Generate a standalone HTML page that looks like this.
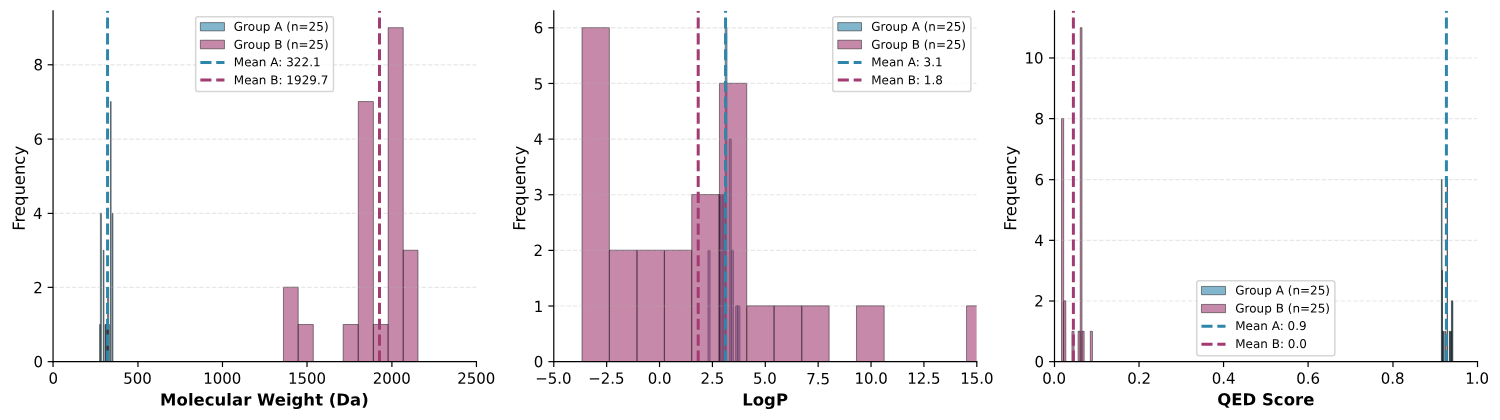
<!DOCTYPE html>
<html lang="en">
<head>
<meta charset="utf-8">
<title>Group A vs Group B property distributions</title>
<style>
html,body{margin:0;padding:0;background:#fff;}
body{width:1500px;height:420px;overflow:hidden;}
svg{display:block;}
.t text{font-family:"DejaVu Sans","Liberation Sans",sans-serif;fill:#000;text-rendering:geometricPrecision;}
</style>
</head>
<body>
<svg width="1500" height="420" viewBox="0 0 1500 420" role="img" aria-label="Histograms comparing Group A and Group B: molecular weight, LogP and QED score">
<defs><clipPath id="c0"><rect x="147" y="30" width="1177" height="977"/></clipPath><clipPath id="c1"><rect x="1539" y="30" width="1176" height="977"/></clipPath><clipPath id="c2"><rect x="2931" y="30" width="1176" height="977"/></clipPath></defs>
<g>
<g transform="scale(0.35971223 0.35897436)">
<path d="M0 1170L4170 1170L4170 0L0 0Z" fill="#ffffff"/>
<path d="M147 1007L1324 1007L1324 30L147 30Z" fill="#ffffff"/>
<path d="M277 1007L279 1007L279 904L277 904Z" fill="#2e86ab" fill-opacity="0.6" stroke="#000000" stroke-opacity="0.6" stroke-width="2.083" stroke-miterlimit="10" clip-path="url(#c0)"/>
<path d="M279 1007L282 1007L282 594L279 594Z" fill="#2e86ab" fill-opacity="0.6" stroke="#000000" stroke-opacity="0.6" stroke-width="2.083" stroke-miterlimit="10" clip-path="url(#c0)"/>
<path d="M282 1007L284 1007L284 1007L282 1007Z" fill="#2e86ab" fill-opacity="0.6" stroke="#000000" stroke-opacity="0.6" stroke-width="2.083" stroke-miterlimit="10" clip-path="url(#c0)"/>
<path d="M284 1007L287 1007L287 1007L284 1007Z" fill="#2e86ab" fill-opacity="0.6" stroke="#000000" stroke-opacity="0.6" stroke-width="2.083" stroke-miterlimit="10" clip-path="url(#c0)"/>
<path d="M287 1007L289 1007L289 697L287 697Z" fill="#2e86ab" fill-opacity="0.6" stroke="#000000" stroke-opacity="0.6" stroke-width="2.083" stroke-miterlimit="10" clip-path="url(#c0)"/>
<path d="M289 1007L292 1007L292 1007L289 1007Z" fill="#2e86ab" fill-opacity="0.6" stroke="#000000" stroke-opacity="0.6" stroke-width="2.083" stroke-miterlimit="10" clip-path="url(#c0)"/>
<path d="M292 1007L294 1007L294 904L292 904Z" fill="#2e86ab" fill-opacity="0.6" stroke="#000000" stroke-opacity="0.6" stroke-width="2.083" stroke-miterlimit="10" clip-path="url(#c0)"/>
<path d="M294 1007L297 1007L297 904L294 904Z" fill="#2e86ab" fill-opacity="0.6" stroke="#000000" stroke-opacity="0.6" stroke-width="2.083" stroke-miterlimit="10" clip-path="url(#c0)"/>
<path d="M297 1007L299 1007L299 904L297 904Z" fill="#2e86ab" fill-opacity="0.6" stroke="#000000" stroke-opacity="0.6" stroke-width="2.083" stroke-miterlimit="10" clip-path="url(#c0)"/>
<path d="M299 1007L302 1007L302 800L299 800Z" fill="#2e86ab" fill-opacity="0.6" stroke="#000000" stroke-opacity="0.6" stroke-width="2.083" stroke-miterlimit="10" clip-path="url(#c0)"/>
<path d="M302 1007L304 1007L304 904L302 904Z" fill="#2e86ab" fill-opacity="0.6" stroke="#000000" stroke-opacity="0.6" stroke-width="2.083" stroke-miterlimit="10" clip-path="url(#c0)"/>
<path d="M304 1007L307 1007L307 1007L304 1007Z" fill="#2e86ab" fill-opacity="0.6" stroke="#000000" stroke-opacity="0.6" stroke-width="2.083" stroke-miterlimit="10" clip-path="url(#c0)"/>
<path d="M307 1007L309 1007L309 283L307 283Z" fill="#2e86ab" fill-opacity="0.6" stroke="#000000" stroke-opacity="0.6" stroke-width="2.083" stroke-miterlimit="10" clip-path="url(#c0)"/>
<path d="M309 1007L312 1007L312 1007L309 1007Z" fill="#2e86ab" fill-opacity="0.6" stroke="#000000" stroke-opacity="0.6" stroke-width="2.083" stroke-miterlimit="10" clip-path="url(#c0)"/>
<path d="M312 1007L314 1007L314 594L312 594Z" fill="#2e86ab" fill-opacity="0.6" stroke="#000000" stroke-opacity="0.6" stroke-width="2.083" stroke-miterlimit="10" clip-path="url(#c0)"/>
<path d="M788 1007L829 1007L829 800L788 800Z" fill="#a23b72" fill-opacity="0.6" stroke="#000000" stroke-opacity="0.6" stroke-width="2.083" stroke-miterlimit="10" clip-path="url(#c0)"/>
<path d="M829 1007L871 1007L871 904L829 904Z" fill="#a23b72" fill-opacity="0.6" stroke="#000000" stroke-opacity="0.6" stroke-width="2.083" stroke-miterlimit="10" clip-path="url(#c0)"/>
<path d="M871 1007L913 1007L913 1007L871 1007Z" fill="#a23b72" fill-opacity="0.6" stroke="#000000" stroke-opacity="0.6" stroke-width="2.083" stroke-miterlimit="10" clip-path="url(#c0)"/>
<path d="M913 1007L954 1007L954 1007L913 1007Z" fill="#a23b72" fill-opacity="0.6" stroke="#000000" stroke-opacity="0.6" stroke-width="2.083" stroke-miterlimit="10" clip-path="url(#c0)"/>
<path d="M954 1007L996 1007L996 904L954 904Z" fill="#a23b72" fill-opacity="0.6" stroke="#000000" stroke-opacity="0.6" stroke-width="2.083" stroke-miterlimit="10" clip-path="url(#c0)"/>
<path d="M996 1007L1038 1007L1038 283L996 283Z" fill="#a23b72" fill-opacity="0.6" stroke="#000000" stroke-opacity="0.6" stroke-width="2.083" stroke-miterlimit="10" clip-path="url(#c0)"/>
<path d="M1038 1007L1079 1007L1079 904L1038 904Z" fill="#a23b72" fill-opacity="0.6" stroke="#000000" stroke-opacity="0.6" stroke-width="2.083" stroke-miterlimit="10" clip-path="url(#c0)"/>
<path d="M1079 1007L1121 1007L1121 77L1079 77Z" fill="#a23b72" fill-opacity="0.6" stroke="#000000" stroke-opacity="0.6" stroke-width="2.083" stroke-miterlimit="10" clip-path="url(#c0)"/>
<path d="M1121 1007L1162 1007L1162 697L1121 697Z" fill="#a23b72" fill-opacity="0.6" stroke="#000000" stroke-opacity="0.6" stroke-width="2.083" stroke-miterlimit="10" clip-path="url(#c0)"/>
<path d="M1162 1007L1204 1007L1204 1007L1162 1007Z" fill="#a23b72" fill-opacity="0.6" stroke="#000000" stroke-opacity="0.6" stroke-width="2.083" stroke-miterlimit="10" clip-path="url(#c0)"/>
<path d="M1204 1007L1246 1007L1246 1007L1204 1007Z" fill="#a23b72" fill-opacity="0.6" stroke="#000000" stroke-opacity="0.6" stroke-width="2.083" stroke-miterlimit="10" clip-path="url(#c0)"/>
<path d="M1246 1007L1287 1007L1287 1007L1246 1007Z" fill="#a23b72" fill-opacity="0.6" stroke="#000000" stroke-opacity="0.6" stroke-width="2.083" stroke-miterlimit="10" clip-path="url(#c0)"/>
<path d="M1287 1007L1329 1007L1329 1007L1287 1007Z" fill="#a23b72" fill-opacity="0.6" stroke="#000000" stroke-opacity="0.6" stroke-width="2.083" stroke-miterlimit="10" clip-path="url(#c0)"/>
<path d="M1329 1007L1370 1007L1370 1007L1329 1007Z" fill="#a23b72" fill-opacity="0.6" stroke="#000000" stroke-opacity="0.6" stroke-width="2.083" stroke-miterlimit="10" clip-path="url(#c0)"/>
<path d="M1370 1007L1412 1007L1412 904L1370 904Z" fill="#a23b72" fill-opacity="0.6" stroke="#000000" stroke-opacity="0.6" stroke-width="2.083" stroke-miterlimit="10" clip-path="url(#c0)"/>
<path transform="translate(147 1007)" d="M0.5 0.5L0.5 15.5" fill="none" stroke="#000000" stroke-width="3.333" stroke-linejoin="round"/>
</g>
<g class="t">
<text transform="matrix(1.002055 0.000539 -0.000525 1.03 48.416 383.841)" font-size="14.957" x="0" y="0">0</text>
</g>
<g transform="scale(0.35971223 0.35897436)">
<path transform="translate(383 1007)" d="M0.5 0.5L0.5 15.5" fill="none" stroke="#000000" stroke-width="3.333" stroke-linejoin="round"/>
</g>
<g class="t">
<text transform="matrix(1.002055 0.000539 -0.000525 1.03 123.291 383.836)" font-size="14.957" x="0 9.513 19.026" y="0">500</text>
</g>
<g transform="scale(0.35971223 0.35897436)">
<path transform="translate(618 1007)" d="M0.5 0.5L0.5 15.5" fill="none" stroke="#000000" stroke-width="3.333" stroke-linejoin="round"/>
</g>
<g class="t">
<text transform="matrix(1.002055 0.000539 -0.000525 1.03 203.27 383.833)" font-size="14.957" x="0 9.513 19.026 28.538" y="0">1000</text>
</g>
<g transform="scale(0.35971223 0.35897436)">
<path transform="translate(853 1007)" d="M0.5 0.5L0.5 15.5" fill="none" stroke="#000000" stroke-width="3.333" stroke-linejoin="round"/>
</g>
<g class="t">
<text transform="matrix(1.002055 0.000539 -0.000525 1.03 287.927 383.833)" font-size="14.957" x="0 9.513 19.026 28.538" y="0">1500</text>
</g>
<g transform="scale(0.35971223 0.35897436)">
<path transform="translate(1089 1007)" d="M0.5 0.5L0.5 15.5" fill="none" stroke="#000000" stroke-width="3.333" stroke-linejoin="round"/>
</g>
<g class="t">
<text transform="matrix(1.002055 0.000539 -0.000525 1.03 372.662 383.833)" font-size="14.957" x="0 9.468 18.981 28.494" y="0">2000</text>
</g>
<g transform="scale(0.35971223 0.35897436)">
<path transform="translate(1324 1007)" d="M0.5 0.5L0.5 15.5" fill="none" stroke="#000000" stroke-width="3.333" stroke-linejoin="round"/>
</g>
<g class="t">
<text transform="matrix(1.002055 0.000539 -0.000525 1.03 457.194 383.833)" font-size="14.957" x="0 9.468 18.981 28.494" y="0">2500</text>
<text transform="matrix(1.002055 0.000524 -0.000525 1 160.072 405.487)" font-size="16.453" font-weight="bold" x="0 16.423 27.776 33.429 44.603 54.385 66.141 71.795 82.923 91.045 96.788 114.378 125.551 131.205 143.006 154.763 162.615 168.359 175.897 189.583 200.712" y="0">Molecular Weight (Da)</text>
</g>
<g transform="scale(0.35971223 0.35897436)">
<path d="M147.5 1007.5L1324.5 1007.5" fill="none" stroke="#b0b0b0" stroke-opacity="0.3" stroke-width="3.333" stroke-linejoin="round" stroke-dasharray="12.333 5.333" clip-path="url(#c0)"/>
<path transform="translate(147 1007)" d="M0.5 0.5L-14.5 0.5" fill="none" stroke="#000000" stroke-width="3.333" stroke-linejoin="round"/>
</g>
<g class="t">
<text transform="matrix(1.002055 0.000539 -0.000525 1.03 33.433 367.328)" font-size="14.957" x="0" y="0">0</text>
</g>
<g transform="scale(0.35971223 0.35897436)">
<path d="M147.5 800.5L1324.5 800.5" fill="none" stroke="#b0b0b0" stroke-opacity="0.3" stroke-width="3.333" stroke-linejoin="round" stroke-dasharray="12.333 5.333" clip-path="url(#c0)"/>
<path transform="translate(147 800)" d="M0.5 0.5L-14.5 0.5" fill="none" stroke="#000000" stroke-width="3.333" stroke-linejoin="round"/>
</g>
<g class="t">
<text transform="matrix(1.002055 0.000539 -0.000525 1.03 33.219 293.279)" font-size="14.957" x="0" y="0">2</text>
</g>
<g transform="scale(0.35971223 0.35897436)">
<path d="M147.5 594.5L1324.5 594.5" fill="none" stroke="#b0b0b0" stroke-opacity="0.3" stroke-width="3.333" stroke-linejoin="round" stroke-dasharray="12.333 5.333" clip-path="url(#c0)"/>
<path transform="translate(147 594)" d="M0.5 0.5L-14.5 0.5" fill="none" stroke="#000000" stroke-width="3.333" stroke-linejoin="round"/>
</g>
<g class="t">
<text transform="matrix(1.002055 0.000539 -0.000525 1.03 33.071 219.072)" font-size="14.957" x="0" y="0">4</text>
</g>
<g transform="scale(0.35971223 0.35897436)">
<path d="M147.5 387.5L1324.5 387.5" fill="none" stroke="#b0b0b0" stroke-opacity="0.3" stroke-width="3.333" stroke-linejoin="round" stroke-dasharray="12.333 5.333" clip-path="url(#c0)"/>
<path transform="translate(147 387)" d="M0.5 0.5L-14.5 0.5" fill="none" stroke="#000000" stroke-width="3.333" stroke-linejoin="round"/>
</g>
<g class="t">
<text transform="matrix(1.002055 0.000539 -0.000525 1.03 33.388 144.764)" font-size="14.957" x="0" y="0">6</text>
</g>
<g transform="scale(0.35971223 0.35897436)">
<path d="M147.5 180.5L1324.5 180.5" fill="none" stroke="#b0b0b0" stroke-opacity="0.3" stroke-width="3.333" stroke-linejoin="round" stroke-dasharray="12.333 5.333" clip-path="url(#c0)"/>
<path transform="translate(147 180)" d="M0.5 0.5L-14.5 0.5" fill="none" stroke="#000000" stroke-width="3.333" stroke-linejoin="round"/>
</g>
<g class="t">
<text transform="matrix(1.002055 0.000539 -0.000525 1.03 33.388 70.356)" font-size="14.957" x="0" y="0">8</text>
<text transform="matrix(0.00053 -1 1.012076 0.000524 24.798 230.841)" font-size="16.453" x="0 8.256 14.673 24.814 35.224 45.635 55.776 66.186 75.25" y="0">Frequency</text>
</g>
<g transform="scale(0.35971223 0.35897436)">
<path d="M299 1007L299 30" fill="none" stroke="#2e86ab" stroke-width="8.333" stroke-linejoin="round" stroke-dasharray="30.833 13.333" clip-path="url(#c0)"/>
<path d="M1055 1007L1055 30" fill="none" stroke="#a23b72" stroke-width="8.333" stroke-linejoin="round" stroke-dasharray="30.833 13.333" clip-path="url(#c0)"/>
<path d="M147.5 1007.5L147.5 30.5" fill="none" stroke="#000000" stroke-width="3.333" stroke-linecap="square" stroke-miterlimit="10"/>
<path d="M147.5 1007.5L1324.5 1007.5" fill="none" stroke="#000000" stroke-width="3.333" stroke-linecap="square" stroke-miterlimit="10"/>
<path d="M551 255L921 255Q927 255 927 249L927 53Q927 47 921 47L551 47Q544 47 544 53L544 249Q544 255 551 255Z" fill="#ffffff" fill-opacity="0.8" stroke="#cccccc" stroke-opacity="0.8" stroke-width="4.167" stroke-miterlimit="10"/>
<path d="M557 86L624 86L624 63L557 63Z" fill="#2e86ab" fill-opacity="0.6" stroke="#000000" stroke-opacity="0.6" stroke-width="2.083" stroke-miterlimit="10"/>
</g>
<g class="t">
<text transform="matrix(1.002055 0.000529 -0.000525 1.01 233.813 30.747)" font-size="11.966" x="0 9.288 13.955 21.314 28.897 36.526 40.34 48.551 52.365 57.032 64.615 74.622 82.295 89.923" y="0">Group A (n=25)</text>
</g>
<g transform="scale(0.35971223 0.35897436)">
<path d="M557 136L624 136L624 112L557 112Z" fill="#a23b72" fill-opacity="0.6" stroke="#000000" stroke-opacity="0.6" stroke-width="2.083" stroke-miterlimit="10"/>
</g>
<g class="t">
<text transform="matrix(1.002055 0.000529 -0.000525 1.01 233.813 48.696)" font-size="11.966" x="0 9.288 13.955 21.314 28.897 36.526 40.34 48.551 52.365 57.032 64.615 74.622 82.295 89.923" y="0">Group B (n=25)</text>
</g>
<g transform="scale(0.35971223 0.35897436)">
<path d="M557 174L591 174L624 174" fill="none" stroke="#2e86ab" stroke-width="8.333" stroke-linejoin="round" stroke-dasharray="30.833 13.333"/>
</g>
<g class="t">
<text transform="matrix(1.002055 0.000529 -0.000525 1.01 233.813 66.287)" font-size="11.966" x="0 10.321 17.679 24.994 32.577 36.391 44.378 48.417 52.231 59.859 67.532 75.205 79.064" y="0">Mean A: 322.1</text>
</g>
<g transform="scale(0.35971223 0.35897436)">
<path d="M557 223L591 223L624 223" fill="none" stroke="#a23b72" stroke-width="8.333" stroke-linejoin="round" stroke-dasharray="30.833 13.333"/>
</g>
<g class="t">
<text transform="matrix(1.002055 0.000529 -0.000525 1.01 233.813 84.234)" font-size="11.966" x="0 10.321 17.679 24.994 32.577 36.391 44.603 48.641 52.455 60.083 67.712 75.385 83.013 86.872" y="0">Mean B: 1929.7</text>
</g>
<g transform="scale(0.35971223 0.35897436)">
<path d="M1539 1007L2715 1007L2715 30L1539 30Z" fill="#ffffff"/>
<path d="M1968 1007L1974 1007L1974 697L1968 697Z" fill="#2e86ab" fill-opacity="0.6" stroke="#000000" stroke-opacity="0.6" stroke-width="2.083" stroke-miterlimit="10" clip-path="url(#c1)"/>
<path d="M1974 1007L1980 1007L1980 1007L1974 1007Z" fill="#2e86ab" fill-opacity="0.6" stroke="#000000" stroke-opacity="0.6" stroke-width="2.083" stroke-miterlimit="10" clip-path="url(#c1)"/>
<path d="M1980 1007L1986 1007L1986 1007L1980 1007Z" fill="#2e86ab" fill-opacity="0.6" stroke="#000000" stroke-opacity="0.6" stroke-width="2.083" stroke-miterlimit="10" clip-path="url(#c1)"/>
<path d="M1986 1007L1992 1007L1992 1007L1986 1007Z" fill="#2e86ab" fill-opacity="0.6" stroke="#000000" stroke-opacity="0.6" stroke-width="2.083" stroke-miterlimit="10" clip-path="url(#c1)"/>
<path d="M1992 1007L1998 1007L1998 1007L1992 1007Z" fill="#2e86ab" fill-opacity="0.6" stroke="#000000" stroke-opacity="0.6" stroke-width="2.083" stroke-miterlimit="10" clip-path="url(#c1)"/>
<path d="M1998 1007L2004 1007L2004 542L1998 542Z" fill="#2e86ab" fill-opacity="0.6" stroke="#000000" stroke-opacity="0.6" stroke-width="2.083" stroke-miterlimit="10" clip-path="url(#c1)"/>
<path d="M2004 1007L2010 1007L2010 542L2004 542Z" fill="#2e86ab" fill-opacity="0.6" stroke="#000000" stroke-opacity="0.6" stroke-width="2.083" stroke-miterlimit="10" clip-path="url(#c1)"/>
<path d="M2010 1007L2016 1007L2016 542L2010 542Z" fill="#2e86ab" fill-opacity="0.6" stroke="#000000" stroke-opacity="0.6" stroke-width="2.083" stroke-miterlimit="10" clip-path="url(#c1)"/>
<path d="M2016 1007L2021 1007L2021 77L2016 77Z" fill="#2e86ab" fill-opacity="0.6" stroke="#000000" stroke-opacity="0.6" stroke-width="2.083" stroke-miterlimit="10" clip-path="url(#c1)"/>
<path d="M2021 1007L2027 1007L2027 1007L2021 1007Z" fill="#2e86ab" fill-opacity="0.6" stroke="#000000" stroke-opacity="0.6" stroke-width="2.083" stroke-miterlimit="10" clip-path="url(#c1)"/>
<path d="M2027 1007L2033 1007L2033 387L2027 387Z" fill="#2e86ab" fill-opacity="0.6" stroke="#000000" stroke-opacity="0.6" stroke-width="2.083" stroke-miterlimit="10" clip-path="url(#c1)"/>
<path d="M2033 1007L2039 1007L2039 697L2033 697Z" fill="#2e86ab" fill-opacity="0.6" stroke="#000000" stroke-opacity="0.6" stroke-width="2.083" stroke-miterlimit="10" clip-path="url(#c1)"/>
<path d="M2039 1007L2045 1007L2045 1007L2039 1007Z" fill="#2e86ab" fill-opacity="0.6" stroke="#000000" stroke-opacity="0.6" stroke-width="2.083" stroke-miterlimit="10" clip-path="url(#c1)"/>
<path d="M2045 1007L2051 1007L2051 852L2045 852Z" fill="#2e86ab" fill-opacity="0.6" stroke="#000000" stroke-opacity="0.6" stroke-width="2.083" stroke-miterlimit="10" clip-path="url(#c1)"/>
<path d="M2051 1007L2057 1007L2057 852L2051 852Z" fill="#2e86ab" fill-opacity="0.6" stroke="#000000" stroke-opacity="0.6" stroke-width="2.083" stroke-miterlimit="10" clip-path="url(#c1)"/>
<path d="M1618 1007L1694 1007L1694 77L1618 77Z" fill="#a23b72" fill-opacity="0.6" stroke="#000000" stroke-opacity="0.6" stroke-width="2.083" stroke-miterlimit="10" clip-path="url(#c1)"/>
<path d="M1694 1007L1771 1007L1771 697L1694 697Z" fill="#a23b72" fill-opacity="0.6" stroke="#000000" stroke-opacity="0.6" stroke-width="2.083" stroke-miterlimit="10" clip-path="url(#c1)"/>
<path d="M1771 1007L1847 1007L1847 697L1771 697Z" fill="#a23b72" fill-opacity="0.6" stroke="#000000" stroke-opacity="0.6" stroke-width="2.083" stroke-miterlimit="10" clip-path="url(#c1)"/>
<path d="M1847 1007L1923 1007L1923 697L1847 697Z" fill="#a23b72" fill-opacity="0.6" stroke="#000000" stroke-opacity="0.6" stroke-width="2.083" stroke-miterlimit="10" clip-path="url(#c1)"/>
<path d="M1923 1007L2000 1007L2000 542L1923 542Z" fill="#a23b72" fill-opacity="0.6" stroke="#000000" stroke-opacity="0.6" stroke-width="2.083" stroke-miterlimit="10" clip-path="url(#c1)"/>
<path d="M2000 1007L2076 1007L2076 232L2000 232Z" fill="#a23b72" fill-opacity="0.6" stroke="#000000" stroke-opacity="0.6" stroke-width="2.083" stroke-miterlimit="10" clip-path="url(#c1)"/>
<path d="M2076 1007L2152 1007L2152 852L2076 852Z" fill="#a23b72" fill-opacity="0.6" stroke="#000000" stroke-opacity="0.6" stroke-width="2.083" stroke-miterlimit="10" clip-path="url(#c1)"/>
<path d="M2152 1007L2229 1007L2229 852L2152 852Z" fill="#a23b72" fill-opacity="0.6" stroke="#000000" stroke-opacity="0.6" stroke-width="2.083" stroke-miterlimit="10" clip-path="url(#c1)"/>
<path d="M2229 1007L2305 1007L2305 852L2229 852Z" fill="#a23b72" fill-opacity="0.6" stroke="#000000" stroke-opacity="0.6" stroke-width="2.083" stroke-miterlimit="10" clip-path="url(#c1)"/>
<path d="M2305 1007L2381 1007L2381 1007L2305 1007Z" fill="#a23b72" fill-opacity="0.6" stroke="#000000" stroke-opacity="0.6" stroke-width="2.083" stroke-miterlimit="10" clip-path="url(#c1)"/>
<path d="M2381 1007L2458 1007L2458 852L2381 852Z" fill="#a23b72" fill-opacity="0.6" stroke="#000000" stroke-opacity="0.6" stroke-width="2.083" stroke-miterlimit="10" clip-path="url(#c1)"/>
<path d="M2458 1007L2534 1007L2534 1007L2458 1007Z" fill="#a23b72" fill-opacity="0.6" stroke="#000000" stroke-opacity="0.6" stroke-width="2.083" stroke-miterlimit="10" clip-path="url(#c1)"/>
<path d="M2534 1007L2610 1007L2610 1007L2534 1007Z" fill="#a23b72" fill-opacity="0.6" stroke="#000000" stroke-opacity="0.6" stroke-width="2.083" stroke-miterlimit="10" clip-path="url(#c1)"/>
<path d="M2610 1007L2687 1007L2687 1007L2610 1007Z" fill="#a23b72" fill-opacity="0.6" stroke="#000000" stroke-opacity="0.6" stroke-width="2.083" stroke-miterlimit="10" clip-path="url(#c1)"/>
<path d="M2687 1007L2763 1007L2763 852L2687 852Z" fill="#a23b72" fill-opacity="0.6" stroke="#000000" stroke-opacity="0.6" stroke-width="2.083" stroke-miterlimit="10" clip-path="url(#c1)"/>
<path transform="translate(1539 1007)" d="M0.5 0.5L0.5 15.5" fill="none" stroke="#000000" stroke-width="3.333" stroke-linejoin="round"/>
</g>
<g class="t">
<text transform="matrix(1.002055 0.000539 -0.000525 1.03 535.204 383.834)" font-size="14.957" x="0 12.519 22.032 26.788" y="0">−5.0</text>
</g>
<g transform="scale(0.35971223 0.35897436)">
<path transform="translate(1686 1007)" d="M0.5 0.5L0.5 15.5" fill="none" stroke="#000000" stroke-width="3.333" stroke-linejoin="round"/>
</g>
<g class="t">
<text transform="matrix(1.002055 0.000539 -0.000525 1.03 588.332 383.834)" font-size="14.957" x="0 12.519 21.987 26.744" y="0">−2.5</text>
</g>
<g transform="scale(0.35971223 0.35897436)">
<path transform="translate(1833 1007)" d="M0.5 0.5L0.5 15.5" fill="none" stroke="#000000" stroke-width="3.333" stroke-linejoin="round"/>
</g>
<g class="t">
<text transform="matrix(1.002055 0.000539 -0.000525 1.03 647.697 383.837)" font-size="14.957" x="0 9.513 14.269" y="0">0.0</text>
</g>
<g transform="scale(0.35971223 0.35897436)">
<path transform="translate(1980 1007)" d="M0.5 0.5L0.5 15.5" fill="none" stroke="#000000" stroke-width="3.333" stroke-linejoin="round"/>
</g>
<g class="t">
<text transform="matrix(1.002055 0.000539 -0.000525 1.03 700.485 383.837)" font-size="14.957" x="0 9.468 14.224" y="0">2.5</text>
</g>
<g transform="scale(0.35971223 0.35897436)">
<path transform="translate(2127 1007)" d="M0.5 0.5L0.5 15.5" fill="none" stroke="#000000" stroke-width="3.333" stroke-linejoin="round"/>
</g>
<g class="t">
<text transform="matrix(1.002055 0.000539 -0.000525 1.03 753.022 383.837)" font-size="14.957" x="0 9.513 14.269" y="0">5.0</text>
</g>
<g transform="scale(0.35971223 0.35897436)">
<path transform="translate(2274 1007)" d="M0.5 0.5L0.5 15.5" fill="none" stroke="#000000" stroke-width="3.333" stroke-linejoin="round"/>
</g>
<g class="t">
<text transform="matrix(1.002055 0.000539 -0.000525 1.03 806.34 384.196)" font-size="14.957" x="0 9.468 14.224" y="0">7.5</text>
</g>
<g transform="scale(0.35971223 0.35897436)">
<path transform="translate(2421 1007)" d="M0.5 0.5L0.5 15.5" fill="none" stroke="#000000" stroke-width="3.333" stroke-linejoin="round"/>
</g>
<g class="t">
<text transform="matrix(1.002055 0.000539 -0.000525 1.03 854.474 383.835)" font-size="14.957" x="0 9.513 19.026 23.782" y="0">10.0</text>
</g>
<g transform="scale(0.35971223 0.35897436)">
<path transform="translate(2568 1007)" d="M0.5 0.5L0.5 15.5" fill="none" stroke="#000000" stroke-width="3.333" stroke-linejoin="round"/>
</g>
<g class="t">
<text transform="matrix(1.002055 0.000539 -0.000525 1.03 907.227 383.835)" font-size="14.957" x="0 9.513 18.981 23.737" y="0">12.5</text>
</g>
<g transform="scale(0.35971223 0.35897436)">
<path transform="translate(2715 1007)" d="M0.5 0.5L0.5 15.5" fill="none" stroke="#000000" stroke-width="3.333" stroke-linejoin="round"/>
</g>
<g class="t">
<text transform="matrix(1.002055 0.000539 -0.000525 1.03 960.229 383.835)" font-size="14.957" x="0 9.513 19.026 23.782" y="0">15.0</text>
<text transform="matrix(1.002055 0.000524 -0.000525 1 742.231 405.529)" font-size="16.453" font-weight="bold" x="0 10.5 21.853 33.654" y="0">LogP</text>
</g>
<g transform="scale(0.35971223 0.35897436)">
<path d="M1539.5 1007.5L2715.5 1007.5" fill="none" stroke="#b0b0b0" stroke-opacity="0.3" stroke-width="3.333" stroke-linejoin="round" stroke-dasharray="12.333 5.333" clip-path="url(#c1)"/>
<path transform="translate(1539 1007)" d="M0.5 0.5L-14.5 0.5" fill="none" stroke="#000000" stroke-width="3.333" stroke-linejoin="round"/>
</g>
<g class="t">
<text transform="matrix(1.002055 0.000539 -0.000525 1.03 533.668 367.328)" font-size="14.957" x="0" y="0">0</text>
</g>
<g transform="scale(0.35971223 0.35897436)">
<path d="M1539.5 852.5L2715.5 852.5" fill="none" stroke="#b0b0b0" stroke-opacity="0.3" stroke-width="3.333" stroke-linejoin="round" stroke-dasharray="12.333 5.333" clip-path="url(#c1)"/>
<path transform="translate(1539 852)" d="M0.5 0.5L-14.5 0.5" fill="none" stroke="#000000" stroke-width="3.333" stroke-linejoin="round"/>
</g>
<g class="t">
<text transform="matrix(1.002055 0.000539 -0.000525 1.03 533.736 312.046)" font-size="14.957" x="0" y="0">1</text>
</g>
<g transform="scale(0.35971223 0.35897436)">
<path d="M1539.5 697.5L2715.5 697.5" fill="none" stroke="#b0b0b0" stroke-opacity="0.3" stroke-width="3.333" stroke-linejoin="round" stroke-dasharray="12.333 5.333" clip-path="url(#c1)"/>
<path transform="translate(1539 697)" d="M0.5 0.5L-14.5 0.5" fill="none" stroke="#000000" stroke-width="3.333" stroke-linejoin="round"/>
</g>
<g class="t">
<text transform="matrix(1.002055 0.000539 -0.000525 1.03 533.453 256.046)" font-size="14.957" x="0" y="0">2</text>
</g>
<g transform="scale(0.35971223 0.35897436)">
<path d="M1539.5 542.5L2715.5 542.5" fill="none" stroke="#b0b0b0" stroke-opacity="0.3" stroke-width="3.333" stroke-linejoin="round" stroke-dasharray="12.333 5.333" clip-path="url(#c1)"/>
<path transform="translate(1539 542)" d="M0.5 0.5L-14.5 0.5" fill="none" stroke="#000000" stroke-width="3.333" stroke-linejoin="round"/>
</g>
<g class="t">
<text transform="matrix(1.002055 0.000539 -0.000525 1.03 533.386 200.305)" font-size="14.957" x="0" y="0">3</text>
</g>
<g transform="scale(0.35971223 0.35897436)">
<path d="M1539.5 387.5L2715.5 387.5" fill="none" stroke="#b0b0b0" stroke-opacity="0.3" stroke-width="3.333" stroke-linejoin="round" stroke-dasharray="12.333 5.333" clip-path="url(#c1)"/>
<path transform="translate(1539 387)" d="M0.5 0.5L-14.5 0.5" fill="none" stroke="#000000" stroke-width="3.333" stroke-linejoin="round"/>
</g>
<g class="t">
<text transform="matrix(1.002055 0.000539 -0.000525 1.03 533.431 144.764)" font-size="14.957" x="0" y="0">4</text>
</g>
<g transform="scale(0.35971223 0.35897436)">
<path d="M1539.5 232.5L2715.5 232.5" fill="none" stroke="#b0b0b0" stroke-opacity="0.3" stroke-width="3.333" stroke-linejoin="round" stroke-dasharray="12.333 5.333" clip-path="url(#c1)"/>
<path transform="translate(1539 232)" d="M0.5 0.5L-14.5 0.5" fill="none" stroke="#000000" stroke-width="3.333" stroke-linejoin="round"/>
</g>
<g class="t">
<text transform="matrix(1.002055 0.000539 -0.000525 1.03 533.723 89.482)" font-size="14.957" x="0" y="0">5</text>
</g>
<g transform="scale(0.35971223 0.35897436)">
<path d="M1539.5 77.5L2715.5 77.5" fill="none" stroke="#b0b0b0" stroke-opacity="0.3" stroke-width="3.333" stroke-linejoin="round" stroke-dasharray="12.333 5.333" clip-path="url(#c1)"/>
<path transform="translate(1539 77)" d="M0.5 0.5L-14.5 0.5" fill="none" stroke="#000000" stroke-width="3.333" stroke-linejoin="round"/>
</g>
<g class="t">
<text transform="matrix(1.002055 0.000539 -0.000525 1.03 533.748 33.282)" font-size="14.957" x="0" y="0">6</text>
<text transform="matrix(0.00053 -1 1.012076 0.000524 525.157 230.841)" font-size="16.453" x="0 8.256 14.673 24.814 35.224 45.635 55.776 66.186 75.25" y="0">Frequency</text>
</g>
<g transform="scale(0.35971223 0.35897436)">
<path d="M2017 1007L2017 30" fill="none" stroke="#2e86ab" stroke-width="8.333" stroke-linejoin="round" stroke-dasharray="30.833 13.333" clip-path="url(#c1)"/>
<path d="M1941 1007L1941 30" fill="none" stroke="#a23b72" stroke-width="8.333" stroke-linejoin="round" stroke-dasharray="30.833 13.333" clip-path="url(#c1)"/>
<path d="M1539.5 1007.5L1539.5 30.5" fill="none" stroke="#000000" stroke-width="3.333" stroke-linecap="square" stroke-miterlimit="10"/>
<path d="M1539.5 1007.5L2715.5 1007.5" fill="none" stroke="#000000" stroke-width="3.333" stroke-linecap="square" stroke-miterlimit="10"/>
<path d="M2322 255L2692 255Q2699 255 2699 249L2699 53Q2699 47 2692 47L2322 47Q2315 47 2315 53L2315 249Q2315 255 2322 255Z" fill="#ffffff" fill-opacity="0.8" stroke="#cccccc" stroke-opacity="0.8" stroke-width="4.167" stroke-miterlimit="10"/>
<path d="M2329 86L2395 86L2395 63L2329 63Z" fill="#2e86ab" fill-opacity="0.6" stroke="#000000" stroke-opacity="0.6" stroke-width="2.083" stroke-miterlimit="10"/>
</g>
<g class="t">
<text transform="matrix(1.002055 0.000529 -0.000525 1.01 871.223 30.747)" font-size="11.966" x="0 9.288 13.955 21.314 28.897 36.526 40.34 48.551 52.365 57.032 64.615 74.622 82.295 89.923" y="0">Group A (n=25)</text>
</g>
<g transform="scale(0.35971223 0.35897436)">
<path d="M2329 136L2395 136L2395 112L2329 112Z" fill="#a23b72" fill-opacity="0.6" stroke="#000000" stroke-opacity="0.6" stroke-width="2.083" stroke-miterlimit="10"/>
</g>
<g class="t">
<text transform="matrix(1.002055 0.000529 -0.000525 1.01 871.223 48.696)" font-size="11.966" x="0 9.288 13.955 21.314 28.897 36.526 40.34 48.551 52.365 57.032 64.615 74.622 82.295 89.923" y="0">Group B (n=25)</text>
</g>
<g transform="scale(0.35971223 0.35897436)">
<path d="M2329 174L2362 174L2395 174" fill="none" stroke="#2e86ab" stroke-width="8.333" stroke-linejoin="round" stroke-dasharray="30.833 13.333"/>
</g>
<g class="t">
<text transform="matrix(1.002055 0.000529 -0.000525 1.01 871.223 66.291)" font-size="11.966" x="0 10.321 17.679 24.994 32.577 36.391 44.378 48.417 52.231 59.859 63.718" y="0">Mean A: 3.1</text>
</g>
<g transform="scale(0.35971223 0.35897436)">
<path d="M2329 223L2362 223L2395 223" fill="none" stroke="#a23b72" stroke-width="8.333" stroke-linejoin="round" stroke-dasharray="30.833 13.333"/>
</g>
<g class="t">
<text transform="matrix(1.002055 0.000529 -0.000525 1.01 871.223 84.24)" font-size="11.966" x="0 10.321 17.679 24.994 32.577 36.391 44.603 48.641 52.455 60.083 63.942" y="0">Mean B: 1.8</text>
</g>
<g transform="scale(0.35971223 0.35897436)">
<path d="M2931 1007L4107 1007L4107 30L2931 30Z" fill="#ffffff"/>
<path d="M4007 1007L4009 1007L4009 500L4007 500Z" fill="#2e86ab" fill-opacity="0.6" stroke="#000000" stroke-opacity="0.6" stroke-width="2.083" stroke-miterlimit="10" clip-path="url(#c2)"/>
<path d="M4009 1007L4010 1007L4010 753L4009 753Z" fill="#2e86ab" fill-opacity="0.6" stroke="#000000" stroke-opacity="0.6" stroke-width="2.083" stroke-miterlimit="10" clip-path="url(#c2)"/>
<path d="M4010 1007L4012 1007L4012 923L4010 923Z" fill="#2e86ab" fill-opacity="0.6" stroke="#000000" stroke-opacity="0.6" stroke-width="2.083" stroke-miterlimit="10" clip-path="url(#c2)"/>
<path d="M4012 1007L4013 1007L4013 1007L4012 1007Z" fill="#2e86ab" fill-opacity="0.6" stroke="#000000" stroke-opacity="0.6" stroke-width="2.083" stroke-miterlimit="10" clip-path="url(#c2)"/>
<path d="M4013 1007L4015 1007L4015 923L4013 923Z" fill="#2e86ab" fill-opacity="0.6" stroke="#000000" stroke-opacity="0.6" stroke-width="2.083" stroke-miterlimit="10" clip-path="url(#c2)"/>
<path d="M4015 1007L4016 1007L4016 1007L4015 1007Z" fill="#2e86ab" fill-opacity="0.6" stroke="#000000" stroke-opacity="0.6" stroke-width="2.083" stroke-miterlimit="10" clip-path="url(#c2)"/>
<path d="M4016 1007L4018 1007L4018 1007L4016 1007Z" fill="#2e86ab" fill-opacity="0.6" stroke="#000000" stroke-opacity="0.6" stroke-width="2.083" stroke-miterlimit="10" clip-path="url(#c2)"/>
<path d="M4018 1007L4020 1007L4020 923L4018 923Z" fill="#2e86ab" fill-opacity="0.6" stroke="#000000" stroke-opacity="0.6" stroke-width="2.083" stroke-miterlimit="10" clip-path="url(#c2)"/>
<path d="M4020 1007L4021 1007L4021 1007L4020 1007Z" fill="#2e86ab" fill-opacity="0.6" stroke="#000000" stroke-opacity="0.6" stroke-width="2.083" stroke-miterlimit="10" clip-path="url(#c2)"/>
<path d="M4021 1007L4023 1007L4023 1007L4021 1007Z" fill="#2e86ab" fill-opacity="0.6" stroke="#000000" stroke-opacity="0.6" stroke-width="2.083" stroke-miterlimit="10" clip-path="url(#c2)"/>
<path d="M4023 1007L4024 1007L4024 500L4023 500Z" fill="#2e86ab" fill-opacity="0.6" stroke="#000000" stroke-opacity="0.6" stroke-width="2.083" stroke-miterlimit="10" clip-path="url(#c2)"/>
<path d="M4024 1007L4026 1007L4026 1007L4024 1007Z" fill="#2e86ab" fill-opacity="0.6" stroke="#000000" stroke-opacity="0.6" stroke-width="2.083" stroke-miterlimit="10" clip-path="url(#c2)"/>
<path d="M4026 1007L4027 1007L4027 1007L4026 1007Z" fill="#2e86ab" fill-opacity="0.6" stroke="#000000" stroke-opacity="0.6" stroke-width="2.083" stroke-miterlimit="10" clip-path="url(#c2)"/>
<path d="M4027 1007L4029 1007L4029 1007L4027 1007Z" fill="#2e86ab" fill-opacity="0.6" stroke="#000000" stroke-opacity="0.6" stroke-width="2.083" stroke-miterlimit="10" clip-path="url(#c2)"/>
<path d="M4029 1007L4031 1007L4031 923L4029 923Z" fill="#2e86ab" fill-opacity="0.6" stroke="#000000" stroke-opacity="0.6" stroke-width="2.083" stroke-miterlimit="10" clip-path="url(#c2)"/>
<path d="M4031 1007L4032 1007L4032 923L4031 923Z" fill="#2e86ab" fill-opacity="0.6" stroke="#000000" stroke-opacity="0.6" stroke-width="2.083" stroke-miterlimit="10" clip-path="url(#c2)"/>
<path d="M4032 1007L4034 1007L4034 1007L4032 1007Z" fill="#2e86ab" fill-opacity="0.6" stroke="#000000" stroke-opacity="0.6" stroke-width="2.083" stroke-miterlimit="10" clip-path="url(#c2)"/>
<path d="M4034 1007L4035 1007L4035 923L4034 923Z" fill="#2e86ab" fill-opacity="0.6" stroke="#000000" stroke-opacity="0.6" stroke-width="2.083" stroke-miterlimit="10" clip-path="url(#c2)"/>
<path d="M4035 1007L4037 1007L4037 838L4035 838Z" fill="#2e86ab" fill-opacity="0.6" stroke="#000000" stroke-opacity="0.6" stroke-width="2.083" stroke-miterlimit="10" clip-path="url(#c2)"/>
<path d="M4037 1007L4039 1007L4039 838L4037 838Z" fill="#2e86ab" fill-opacity="0.6" stroke="#000000" stroke-opacity="0.6" stroke-width="2.083" stroke-miterlimit="10" clip-path="url(#c2)"/>
<path d="M2951 1007L2957 1007L2957 330L2951 330Z" fill="#a23b72" fill-opacity="0.6" stroke="#000000" stroke-opacity="0.6" stroke-width="2.083" stroke-miterlimit="10" clip-path="url(#c2)"/>
<path d="M2957 1007L2963 1007L2963 838L2957 838Z" fill="#a23b72" fill-opacity="0.6" stroke="#000000" stroke-opacity="0.6" stroke-width="2.083" stroke-miterlimit="10" clip-path="url(#c2)"/>
<path d="M2963 1007L2968 1007L2968 1007L2963 1007Z" fill="#a23b72" fill-opacity="0.6" stroke="#000000" stroke-opacity="0.6" stroke-width="2.083" stroke-miterlimit="10" clip-path="url(#c2)"/>
<path d="M2968 1007L2974 1007L2974 1007L2968 1007Z" fill="#a23b72" fill-opacity="0.6" stroke="#000000" stroke-opacity="0.6" stroke-width="2.083" stroke-miterlimit="10" clip-path="url(#c2)"/>
<path d="M2974 1007L2980 1007L2980 1007L2974 1007Z" fill="#a23b72" fill-opacity="0.6" stroke="#000000" stroke-opacity="0.6" stroke-width="2.083" stroke-miterlimit="10" clip-path="url(#c2)"/>
<path d="M2980 1007L2986 1007L2986 923L2980 923Z" fill="#a23b72" fill-opacity="0.6" stroke="#000000" stroke-opacity="0.6" stroke-width="2.083" stroke-miterlimit="10" clip-path="url(#c2)"/>
<path d="M2986 1007L2991 1007L2991 1007L2986 1007Z" fill="#a23b72" fill-opacity="0.6" stroke="#000000" stroke-opacity="0.6" stroke-width="2.083" stroke-miterlimit="10" clip-path="url(#c2)"/>
<path d="M2991 1007L2997 1007L2997 1007L2991 1007Z" fill="#a23b72" fill-opacity="0.6" stroke="#000000" stroke-opacity="0.6" stroke-width="2.083" stroke-miterlimit="10" clip-path="url(#c2)"/>
<path d="M2997 1007L3003 1007L3003 923L2997 923Z" fill="#a23b72" fill-opacity="0.6" stroke="#000000" stroke-opacity="0.6" stroke-width="2.083" stroke-miterlimit="10" clip-path="url(#c2)"/>
<path d="M3003 1007L3008 1007L3008 77L3003 77Z" fill="#a23b72" fill-opacity="0.6" stroke="#000000" stroke-opacity="0.6" stroke-width="2.083" stroke-miterlimit="10" clip-path="url(#c2)"/>
<path d="M3008 1007L3014 1007L3014 923L3008 923Z" fill="#a23b72" fill-opacity="0.6" stroke="#000000" stroke-opacity="0.6" stroke-width="2.083" stroke-miterlimit="10" clip-path="url(#c2)"/>
<path d="M3014 1007L3020 1007L3020 1007L3014 1007Z" fill="#a23b72" fill-opacity="0.6" stroke="#000000" stroke-opacity="0.6" stroke-width="2.083" stroke-miterlimit="10" clip-path="url(#c2)"/>
<path d="M3020 1007L3025 1007L3025 1007L3020 1007Z" fill="#a23b72" fill-opacity="0.6" stroke="#000000" stroke-opacity="0.6" stroke-width="2.083" stroke-miterlimit="10" clip-path="url(#c2)"/>
<path d="M3025 1007L3031 1007L3031 1007L3025 1007Z" fill="#a23b72" fill-opacity="0.6" stroke="#000000" stroke-opacity="0.6" stroke-width="2.083" stroke-miterlimit="10" clip-path="url(#c2)"/>
<path d="M3031 1007L3037 1007L3037 923L3031 923Z" fill="#a23b72" fill-opacity="0.6" stroke="#000000" stroke-opacity="0.6" stroke-width="2.083" stroke-miterlimit="10" clip-path="url(#c2)"/>
<path transform="translate(2931 1007)" d="M0.5 0.5L0.5 15.5" fill="none" stroke="#000000" stroke-width="3.333" stroke-linejoin="round"/>
</g>
<g class="t">
<text transform="matrix(1.002055 0.000539 -0.000525 1.03 1042.176 383.837)" font-size="14.957" x="0 9.513 14.269" y="0">0.0</text>
</g>
<g transform="scale(0.35971223 0.35897436)">
<path transform="translate(3166 1007)" d="M0.5 0.5L0.5 15.5" fill="none" stroke="#000000" stroke-width="3.333" stroke-linejoin="round"/>
</g>
<g class="t">
<text transform="matrix(1.002055 0.000539 -0.000525 1.03 1127.193 383.837)" font-size="14.957" x="0 9.513 14.269" y="0">0.2</text>
</g>
<g transform="scale(0.35971223 0.35897436)">
<path transform="translate(3401 1007)" d="M0.5 0.5L0.5 15.5" fill="none" stroke="#000000" stroke-width="3.333" stroke-linejoin="round"/>
</g>
<g class="t">
<text transform="matrix(1.002055 0.000539 -0.000525 1.03 1211.726 383.837)" font-size="14.957" x="0 9.513 14.269" y="0">0.4</text>
</g>
<g transform="scale(0.35971223 0.35897436)">
<path transform="translate(3636 1007)" d="M0.5 0.5L0.5 15.5" fill="none" stroke="#000000" stroke-width="3.333" stroke-linejoin="round"/>
</g>
<g class="t">
<text transform="matrix(1.002055 0.000539 -0.000525 1.03 1296.133 383.837)" font-size="14.957" x="0 9.513 14.269" y="0">0.6</text>
</g>
<g transform="scale(0.35971223 0.35897436)">
<path transform="translate(3872 1007)" d="M0.5 0.5L0.5 15.5" fill="none" stroke="#000000" stroke-width="3.333" stroke-linejoin="round"/>
</g>
<g class="t">
<text transform="matrix(1.002055 0.000539 -0.000525 1.03 1380.665 383.837)" font-size="14.957" x="0 9.513 14.269" y="0">0.8</text>
</g>
<g transform="scale(0.35971223 0.35897436)">
<path transform="translate(4107 1007)" d="M0.5 0.5L0.5 15.5" fill="none" stroke="#000000" stroke-width="3.333" stroke-linejoin="round"/>
</g>
<g class="t">
<text transform="matrix(1.002055 0.000539 -0.000525 1.03 1465.265 383.837)" font-size="14.957" x="0 9.513 14.269" y="0">1.0</text>
<text transform="matrix(1.002055 0.000524 -0.000525 1 1217.266 405.157)" font-size="16.453" font-weight="bold" x="0 13.955 25.218 38.904 44.647 56.494 66.276 77.628 85.75" y="0">QED Score</text>
</g>
<g transform="scale(0.35971223 0.35897436)">
<path d="M2931.5 1007.5L4107.5 1007.5" fill="none" stroke="#b0b0b0" stroke-opacity="0.3" stroke-width="3.333" stroke-linejoin="round" stroke-dasharray="12.333 5.333" clip-path="url(#c2)"/>
<path transform="translate(2931 1007)" d="M0.5 0.5L-14.5 0.5" fill="none" stroke="#000000" stroke-width="3.333" stroke-linejoin="round"/>
</g>
<g class="t">
<text transform="matrix(1.002055 0.000539 -0.000525 1.03 1034.388 367.328)" font-size="14.957" x="0" y="0">0</text>
</g>
<g transform="scale(0.35971223 0.35897436)">
<path d="M2931.5 838.5L4107.5 838.5" fill="none" stroke="#b0b0b0" stroke-opacity="0.3" stroke-width="3.333" stroke-linejoin="round" stroke-dasharray="12.333 5.333" clip-path="url(#c2)"/>
<path transform="translate(2931 838)" d="M0.5 0.5L-14.5 0.5" fill="none" stroke="#000000" stroke-width="3.333" stroke-linejoin="round"/>
</g>
<g class="t">
<text transform="matrix(1.002055 0.000539 -0.000525 1.03 1034.173 306.562)" font-size="14.957" x="0" y="0">2</text>
</g>
<g transform="scale(0.35971223 0.35897436)">
<path d="M2931.5 669.5L4107.5 669.5" fill="none" stroke="#b0b0b0" stroke-opacity="0.3" stroke-width="3.333" stroke-linejoin="round" stroke-dasharray="12.333 5.333" clip-path="url(#c2)"/>
<path transform="translate(2931 669)" d="M0.5 0.5L-14.5 0.5" fill="none" stroke="#000000" stroke-width="3.333" stroke-linejoin="round"/>
</g>
<g class="t">
<text transform="matrix(1.002055 0.000539 -0.000525 1.03 1034.15 245.995)" font-size="14.957" x="0" y="0">4</text>
</g>
<g transform="scale(0.35971223 0.35897436)">
<path d="M2931.5 500.5L4107.5 500.5" fill="none" stroke="#b0b0b0" stroke-opacity="0.3" stroke-width="3.333" stroke-linejoin="round" stroke-dasharray="12.333 5.333" clip-path="url(#c2)"/>
<path transform="translate(2931 500)" d="M0.5 0.5L-14.5 0.5" fill="none" stroke="#000000" stroke-width="3.333" stroke-linejoin="round"/>
</g>
<g class="t">
<text transform="matrix(1.002055 0.000539 -0.000525 1.03 1034.468 185.328)" font-size="14.957" x="0" y="0">6</text>
</g>
<g transform="scale(0.35971223 0.35897436)">
<path d="M2931.5 330.5L4107.5 330.5" fill="none" stroke="#b0b0b0" stroke-opacity="0.3" stroke-width="3.333" stroke-linejoin="round" stroke-dasharray="12.333 5.333" clip-path="url(#c2)"/>
<path transform="translate(2931 330)" d="M0.5 0.5L-14.5 0.5" fill="none" stroke="#000000" stroke-width="3.333" stroke-linejoin="round"/>
</g>
<g class="t">
<text transform="matrix(1.002055 0.000539 -0.000525 1.03 1034.468 124.303)" font-size="14.957" x="0" y="0">8</text>
</g>
<g transform="scale(0.35971223 0.35897436)">
<path d="M2931.5 161.5L4107.5 161.5" fill="none" stroke="#b0b0b0" stroke-opacity="0.3" stroke-width="3.333" stroke-linejoin="round" stroke-dasharray="12.333 5.333" clip-path="url(#c2)"/>
<path transform="translate(2931 161)" d="M0.5 0.5L-14.5 0.5" fill="none" stroke="#000000" stroke-width="3.333" stroke-linejoin="round"/>
</g>
<g class="t">
<text transform="matrix(1.002055 0.000539 -0.000525 1.03 1024.493 63.533)" font-size="14.957" x="0 9.513" y="0">10</text>
<text transform="matrix(0.00053 -1 1.012076 0.000524 1016.165 230.841)" font-size="16.453" x="0 8.256 14.673 24.814 35.224 45.635 55.776 66.186 75.25" y="0">Frequency</text>
</g>
<g transform="scale(0.35971223 0.35897436)">
<path d="M4021 1007L4021 30" fill="none" stroke="#2e86ab" stroke-width="8.333" stroke-linejoin="round" stroke-dasharray="30.833 13.333" clip-path="url(#c2)"/>
<path d="M2984 1007L2984 30" fill="none" stroke="#a23b72" stroke-width="8.333" stroke-linejoin="round" stroke-dasharray="30.833 13.333" clip-path="url(#c2)"/>
<path d="M2931.5 1007.5L2931.5 30.5" fill="none" stroke="#000000" stroke-width="3.333" stroke-linecap="square" stroke-miterlimit="10"/>
<path d="M2931.5 1007.5L4107.5 1007.5" fill="none" stroke="#000000" stroke-width="3.333" stroke-linecap="square" stroke-miterlimit="10"/>
<path d="M3334 991L3704 991Q3711 991 3711 984L3711 789Q3711 782 3704 782L3334 782Q3327 782 3327 789L3327 984Q3327 991 3334 991Z" fill="#ffffff" fill-opacity="0.8" stroke="#cccccc" stroke-opacity="0.8" stroke-width="4.167" stroke-miterlimit="10"/>
<path d="M3340 821L3407 821L3407 798L3340 798Z" fill="#2e86ab" fill-opacity="0.6" stroke="#000000" stroke-opacity="0.6" stroke-width="2.083" stroke-miterlimit="10"/>
</g>
<g class="t">
<text transform="matrix(1.002055 0.000529 -0.000525 1.01 1235.252 294.493)" font-size="11.966" x="0 9.288 13.955 21.314 28.897 36.526 40.34 48.551 52.365 57.032 64.615 74.622 82.295 89.923" y="0">Group A (n=25)</text>
</g>
<g transform="scale(0.35971223 0.35897436)">
<path d="M3340 871L3407 871L3407 848L3340 848Z" fill="#a23b72" fill-opacity="0.6" stroke="#000000" stroke-opacity="0.6" stroke-width="2.083" stroke-miterlimit="10"/>
</g>
<g class="t">
<text transform="matrix(1.002055 0.000529 -0.000525 1.01 1235.252 312.542)" font-size="11.966" x="0 9.288 13.955 21.314 28.897 36.526 40.34 48.551 52.365 57.032 64.615 74.622 82.295 89.923" y="0">Group B (n=25)</text>
</g>
<g transform="scale(0.35971223 0.35897436)">
<path d="M3340 909L3374 909L3407 909" fill="none" stroke="#2e86ab" stroke-width="8.333" stroke-linejoin="round" stroke-dasharray="30.833 13.333"/>
</g>
<g class="t">
<text transform="matrix(1.002055 0.000529 -0.000525 1.01 1235.252 330.038)" font-size="11.966" x="0 10.321 17.679 24.994 32.577 36.391 44.378 48.417 52.231 59.859 63.718" y="0">Mean A: 0.9</text>
</g>
<g transform="scale(0.35971223 0.35897436)">
<path d="M3340 959L3374 959L3407 959" fill="none" stroke="#a23b72" stroke-width="8.333" stroke-linejoin="round" stroke-dasharray="30.833 13.333"/>
</g>
<g class="t">
<text transform="matrix(1.002055 0.000529 -0.000525 1.01 1235.252 348.086)" font-size="11.966" x="0 10.321 17.679 24.994 32.577 36.391 44.603 48.641 52.455 60.083 63.942" y="0">Mean B: 0.0</text>
</g>
</g>
</svg>
</body>
</html>
